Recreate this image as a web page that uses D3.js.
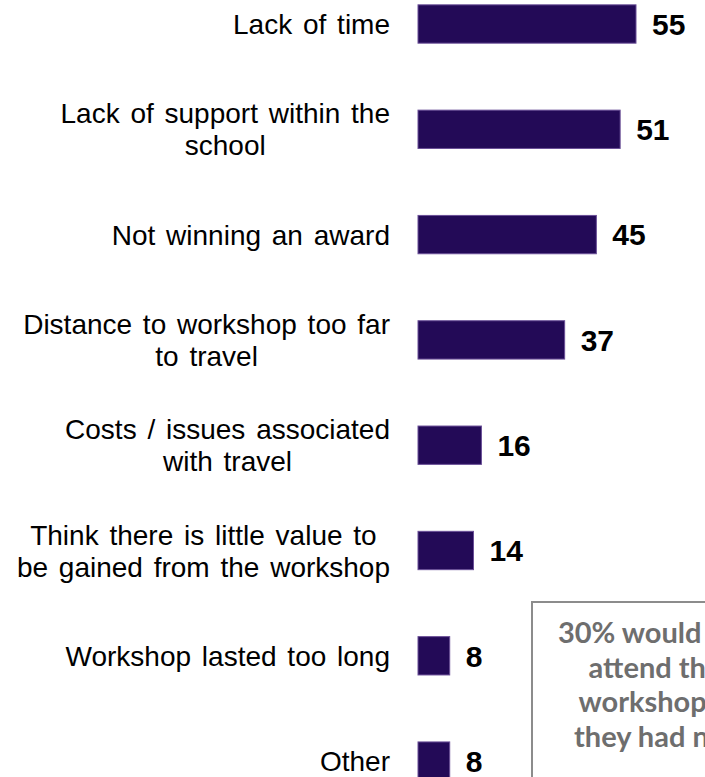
<!DOCTYPE html>
<html>
<head>
<meta charset="utf-8">
<script src="https://cdn.jsdelivr.net/npm/d3@7"></script>
<style>
  body { margin: 0; background: #fff; }
  svg { display: block; }
</style>
</head>
<body>
<div id="chart"></div>
<script>
var categories = [
  ["Lack of time"],
  ["Lack of support within the", "school"],
  ["Not winning an award"],
  ["Distance to workshop too far", "to travel"],
  ["Costs / issues associated", "with travel"],
  ["Think there is little value to", "be gained from the workshop"],
  ["Workshop lasted too long"],
  ["Other"]
];
var values = [55, 51, 45, 37, 16, 14, 8, 8];
var noteLines = ["30% would not", "attend the", "workshop if", "they had not"];

var width = 705, height = 777;

var svg = d3.select("#chart").append("svg")
  .attr("width", width)
  .attr("height", height);

var x = d3.scaleLinear().domain([0, 55]).range([418, 636]);

var step = 105.3;
var y = d3.scaleBand()
  .domain(d3.range(values.length))
  .range([24 - step / 2, 24 + step * (values.length - 0.5)])
  .paddingInner(0.636)
  .paddingOuter(0.318);

// bars
svg.selectAll("rect.bar")
  .data(values)
  .enter()
  .append("rect")
  .attr("class", "bar")
  .attr("x", x(0))
  .attr("y", function(d, i){ return y(i); })
  .attr("width", function(d){ return x(d) - x(0); })
  .attr("height", y.bandwidth())
  .attr("fill", "#230a57")
  .attr("stroke", "#6a4f97")
  .attr("stroke-width", 1);

// value labels
svg.selectAll("text.value")
  .data(values)
  .enter()
  .append("text")
  .attr("class", "value")
  .attr("x", function(d){ return x(d) + 16; })
  .attr("y", function(d, i){ return y(i) + y.bandwidth() / 2; })
  .attr("dy", "0.36em")
  .attr("font-family", "'Liberation Sans', Arial, sans-serif")
  .attr("font-weight", "bold")
  .attr("font-size", 30)
  .attr("fill", "#000")
  .text(function(d){ return d; });

// category labels, lines centred on each other, block right aligned
var labelRight = 390, lineH = 32;
categories.forEach(function(lines, i){
  var g = svg.append("g");
  var cy = y(i) + y.bandwidth() / 2;
  var texts = lines.map(function(line, j){
    return g.append("text")
      .attr("y", cy + (j - (lines.length - 1) / 2) * lineH)
      .attr("dy", "0.36em")
      .attr("text-anchor", "middle")
      .attr("font-family", "'Liberation Sans', Arial, sans-serif")
      .attr("font-size", 28)
      .attr("word-spacing", 3)
      .attr("fill", "#000")
      .text(line);
  });
  var maxW = d3.max(texts, function(t){ return t.node().getComputedTextLength(); });
  texts.forEach(function(t){ t.attr("x", labelRight - maxW / 2); });
});

// note box (runs off the page, as in the original)
svg.append("rect")
  .attr("x", 532)
  .attr("y", 602)
  .attr("width", 260)
  .attr("height", 260)
  .attr("fill", "#fff")
  .attr("stroke", "#8c8c8c")
  .attr("stroke-width", 2);

svg.selectAll("text.note")
  .data(noteLines)
  .enter()
  .append("text")
  .attr("class", "note")
  .attr("x", 655)
  .attr("y", function(d, i){ return 643 + i * 34.7; })
  .attr("text-anchor", "middle")
  .attr("font-family", "Lato, 'Open Sans', sans-serif")
  .attr("font-weight", "bold")
  .attr("font-size", 29)
  .attr("fill", "#6e6e6e")
  .text(function(d){ return d; });
</script>
</body>
</html>
